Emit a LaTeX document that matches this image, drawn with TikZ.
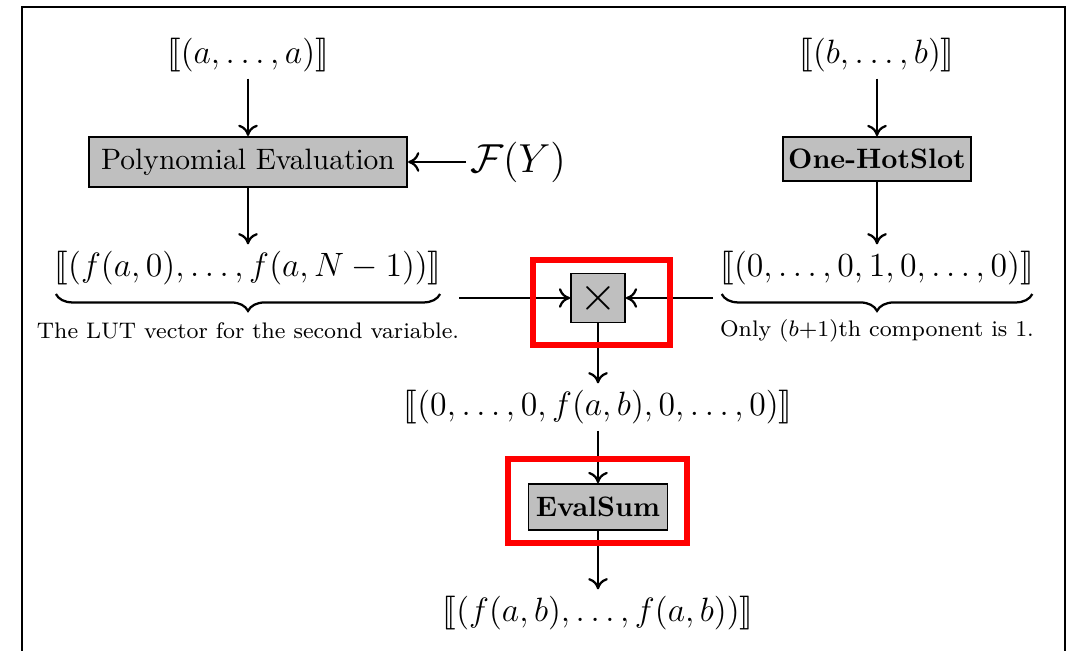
\documentclass[tikz,border=0pt]{standalone}
\usepackage{amsfonts,amssymb,amsmath}
\usepackage{stmaryrd}
\usepackage{xcolor}
\usetikzlibrary{arrows.meta,shapes,decorations.pathreplacing}

\begin{document}
\begin{tikzpicture}[x=0.0125cm,y=-0.0125cm,>={To[length=4pt,width=7pt]},line width=0.8pt,
vec/.style={font=\fontsize{11.5}{14}\selectfont,inner sep=2pt},
note/.style={font=\fontsize{8}{10}\selectfont,inner sep=1pt},
op/.style={draw,fill=black!25,line width=0.6pt,inner sep=0pt,font=\fontsize{10.5}{12}\selectfont},
underbr/.style={decorate,decoration={brace,mirror,amplitude=6pt}},
hilite/.style={draw=red,line width=1.9pt}]
\useasboundingbox (0,0) rectangle (1071,651);
\draw[line width=0.9pt](22,651)--(22,7)--(1065,7)--(1065,651);

\node[vec](avec) at (248,55){$\llbracket(a,\ldots,a)\rrbracket$};
\node[vec](bvec) at (877,55){$\llbracket(b,\ldots,b)\rrbracket$};
\node[op,minimum width=3.98cm,minimum height=0.63cm](poly) at (248,162){Polynomial Evaluation};
\node[op,minimum width=2.35cm,minimum height=0.55cm,font=\fontsize{10}{12}\selectfont](onehot) at (877,159){\bfseries One-HotSlot};
\node[font=\fontsize{14}{16}\selectfont,inner sep=1pt](fy) at (518,162){$\mathcal{F}(Y)$};
\node[vec](lutvec) at (248,268){$\llbracket(f(a,0),\ldots,f(a,N-1))\rrbracket$};
\node[vec](onevec) at (877,268){$\llbracket(0,\ldots,0,1,0,\ldots,0)\rrbracket$};
\node[note](lutnote) at (248,331){The LUT vector for the second variable.};
\node[note](onenote) at (877,331){Only $(b{+}1)$th component is 1.};
\node[op,minimum width=0.675cm,minimum height=0.61cm,font=\fontsize{18}{18}\selectfont](times) at (598,298){$\times$};
\node[vec](midvec) at (598,407){$\llbracket(0,\ldots,0,f(a,b),0,\ldots,0)\rrbracket$};
\node[op,minimum width=1.74cm,minimum height=0.575cm,font=\fontsize{10}{12}\selectfont](evalsum) at (598,507){\bfseries EvalSum};
\node[vec](outvec) at (598,613){$\llbracket(f(a,b),\ldots,f(a,b))\rrbracket$};
\coordinate (lin) at (459,298);
\coordinate (rin) at (713,298);

\draw[underbr]([xshift=0.1cm,yshift=-0.03cm]lutvec.south west)--([xshift=-0.1cm,yshift=-0.03cm]lutvec.south east);
\draw[underbr]([xshift=0.1cm,yshift=-0.03cm]onevec.south west)--([xshift=-0.1cm,yshift=-0.03cm]onevec.south east);

\draw[->](avec)--(poly);
\draw[->](fy)--(poly);
\draw[->](poly)--(lutvec);
\draw[->](bvec)--(onehot);
\draw[->](onehot)--(onevec);
\draw[->](lin)--(times);
\draw[->](rin)--(times);
\draw[->](times)--(midvec);
\draw[->](midvec)--(evalsum);
\draw[->](evalsum)--(outvec);

\draw[hilite](533,260)rectangle(670,345);
\draw[hilite](508,459)rectangle(687,543);
\end{tikzpicture}
\end{document}
